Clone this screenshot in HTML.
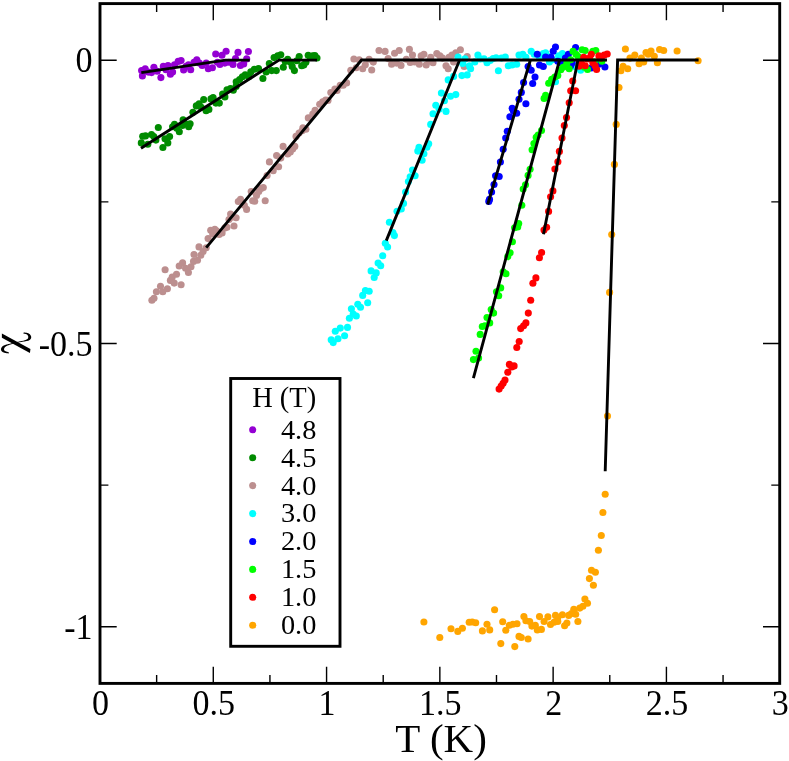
<!DOCTYPE html>
<html><head><meta charset="utf-8"><title>chi vs T</title>
<style>
html,body{margin:0;padding:0;background:#fff;}
body{width:789px;height:761px;overflow:hidden;font-family:"Liberation Serif",serif;}
svg{display:block;}
text{font-family:"Liberation Serif",serif;fill:#000;}
</style></head><body>
<svg style="will-change:transform" width="789" height="761" viewBox="0 0 789 761">
<rect width="789" height="761" fill="#fff"/>
<g fill="#9400d3">
<circle cx="141.6" cy="70.5" r="3.55"/><circle cx="142.4" cy="75.9" r="3.55"/><circle cx="145.2" cy="68.8" r="3.55"/><circle cx="148.2" cy="72.1" r="3.55"/><circle cx="151.5" cy="72.6" r="3.55"/><circle cx="153.9" cy="67.2" r="3.55"/><circle cx="157.2" cy="71.3" r="3.55"/><circle cx="160.9" cy="77.6" r="3.55"/><circle cx="163.3" cy="66.4" r="3.55"/><circle cx="166.0" cy="69.7" r="3.55"/><circle cx="168.0" cy="65.5" r="3.55"/><circle cx="170.4" cy="74.3" r="3.55"/><circle cx="172.6" cy="72.1" r="3.55"/><circle cx="174.5" cy="64.7" r="3.55"/><circle cx="178.2" cy="61.4" r="3.55"/><circle cx="181.1" cy="60.6" r="3.55"/><circle cx="183.6" cy="70.0" r="3.55"/><circle cx="186.1" cy="66.4" r="3.55"/><circle cx="188.5" cy="64.7" r="3.55"/><circle cx="190.7" cy="69.7" r="3.55"/><circle cx="194.0" cy="62.2" r="3.55"/><circle cx="196.8" cy="59.8" r="3.55"/><circle cx="199.3" cy="63.1" r="3.55"/><circle cx="202.2" cy="65.5" r="3.55"/><circle cx="206.2" cy="63.1" r="3.55"/><circle cx="208.3" cy="68.8" r="3.55"/><circle cx="212.4" cy="67.7" r="3.55"/><circle cx="215.7" cy="54.0" r="3.55"/><circle cx="217.4" cy="62.2" r="3.55"/><circle cx="219.9" cy="64.4" r="3.55"/><circle cx="222.0" cy="55.2" r="3.55"/><circle cx="224.8" cy="63.1" r="3.55"/><circle cx="226.1" cy="51.2" r="3.55"/><circle cx="228.9" cy="62.2" r="3.55"/><circle cx="233.0" cy="64.4" r="3.55"/><circle cx="235.5" cy="58.5" r="3.55"/><circle cx="238.0" cy="52.4" r="3.55"/><circle cx="240.4" cy="65.5" r="3.55"/><circle cx="243.7" cy="63.9" r="3.55"/><circle cx="246.7" cy="58.9" r="3.55"/><circle cx="248.4" cy="51.5" r="3.55"/>
</g>
<g fill="#008b00">
<circle cx="141.3" cy="142.9" r="3.55"/><circle cx="142.7" cy="136.3" r="3.55"/><circle cx="145.5" cy="135.9" r="3.55"/><circle cx="147.8" cy="144.3" r="3.55"/><circle cx="151.5" cy="134.5" r="3.55"/><circle cx="153.8" cy="136.6" r="3.55"/><circle cx="155.9" cy="140.1" r="3.55"/><circle cx="158.3" cy="127.5" r="3.55"/><circle cx="162.9" cy="147.5" r="3.55"/><circle cx="165.0" cy="138.7" r="3.55"/><circle cx="167.8" cy="142.9" r="3.55"/><circle cx="169.6" cy="136.6" r="3.55"/><circle cx="172.6" cy="126.8" r="3.55"/><circle cx="174.5" cy="124.3" r="3.55"/><circle cx="176.8" cy="128.2" r="3.55"/><circle cx="179.3" cy="131.7" r="3.55"/><circle cx="183.1" cy="119.9" r="3.55"/><circle cx="182.4" cy="125.4" r="3.55"/><circle cx="185.9" cy="124.0" r="3.55"/><circle cx="188.7" cy="126.8" r="3.55"/><circle cx="190.1" cy="123.8" r="3.55"/><circle cx="192.9" cy="112.2" r="3.55"/><circle cx="196.3" cy="105.9" r="3.55"/><circle cx="199.1" cy="103.8" r="3.55"/><circle cx="201.2" cy="107.3" r="3.55"/><circle cx="203.7" cy="99.6" r="3.55"/><circle cx="206.1" cy="110.8" r="3.55"/><circle cx="208.9" cy="109.4" r="3.55"/><circle cx="211.0" cy="98.9" r="3.55"/><circle cx="213.1" cy="97.5" r="3.55"/><circle cx="215.9" cy="103.1" r="3.55"/><circle cx="219.3" cy="103.1" r="3.55"/><circle cx="222.6" cy="94.1" r="3.55"/><circle cx="224.9" cy="96.9" r="3.55"/><circle cx="227.0" cy="89.9" r="3.55"/><circle cx="230.5" cy="88.5" r="3.55"/><circle cx="233.3" cy="90.3" r="3.55"/><circle cx="236.1" cy="86.4" r="3.55"/><circle cx="236.2" cy="81.7" r="3.55"/><circle cx="239.6" cy="79.6" r="3.55"/><circle cx="242.4" cy="76.8" r="3.55"/><circle cx="245.2" cy="74.7" r="3.55"/><circle cx="248.7" cy="76.8" r="3.55"/><circle cx="250.8" cy="71.9" r="3.55"/><circle cx="254.3" cy="69.2" r="3.55"/><circle cx="258.5" cy="68.5" r="3.55"/><circle cx="262.9" cy="78.5" r="3.55"/><circle cx="266.1" cy="71.9" r="3.55"/><circle cx="269.3" cy="63.6" r="3.55"/><circle cx="271.7" cy="70.6" r="3.55"/><circle cx="274.1" cy="57.6" r="3.55"/><circle cx="276.3" cy="70.6" r="3.55"/><circle cx="277.7" cy="55.9" r="3.55"/><circle cx="280.8" cy="54.8" r="3.55"/><circle cx="283.3" cy="67.3" r="3.55"/><circle cx="285.2" cy="61.5" r="3.55"/><circle cx="287.7" cy="59.4" r="3.55"/><circle cx="290.5" cy="62.2" r="3.55"/><circle cx="292.2" cy="66.4" r="3.55"/><circle cx="294.4" cy="70.6" r="3.55"/><circle cx="296.8" cy="60.8" r="3.55"/><circle cx="299.2" cy="56.6" r="3.55"/><circle cx="301.7" cy="65.7" r="3.55"/><circle cx="303.8" cy="65.0" r="3.55"/><circle cx="305.9" cy="62.2" r="3.55"/><circle cx="308.2" cy="55.2" r="3.55"/><circle cx="310.3" cy="57.3" r="3.55"/><circle cx="312.6" cy="55.9" r="3.55"/><circle cx="314.9" cy="55.6" r="3.55"/><circle cx="317.0" cy="58.0" r="3.55"/>
</g>
<g fill="#bc8f8f">
<circle cx="151.9" cy="300.2" r="3.55"/><circle cx="154.0" cy="298.3" r="3.55"/><circle cx="156.4" cy="291.8" r="3.55"/><circle cx="160.5" cy="286.2" r="3.55"/><circle cx="162.8" cy="291.8" r="3.55"/><circle cx="165.1" cy="269.8" r="3.55"/><circle cx="167.4" cy="288.8" r="3.55"/><circle cx="170.4" cy="280.4" r="3.55"/><circle cx="172.2" cy="277.1" r="3.55"/><circle cx="174.2" cy="283.1" r="3.55"/><circle cx="176.5" cy="274.3" r="3.55"/><circle cx="179.2" cy="266.0" r="3.55"/><circle cx="181.1" cy="284.7" r="3.55"/><circle cx="182.6" cy="262.9" r="3.55"/><circle cx="185.6" cy="268.2" r="3.55"/><circle cx="188.4" cy="272.5" r="3.55"/><circle cx="191.0" cy="266.7" r="3.55"/><circle cx="193.5" cy="261.4" r="3.55"/><circle cx="194.0" cy="254.5" r="3.55"/><circle cx="197.5" cy="260.3" r="3.55"/><circle cx="199.0" cy="246.9" r="3.55"/><circle cx="200.8" cy="255.3" r="3.55"/><circle cx="203.1" cy="251.5" r="3.55"/><circle cx="206.2" cy="247.7" r="3.55"/><circle cx="208.1" cy="238.6" r="3.55"/><circle cx="210.7" cy="230.2" r="3.55"/><circle cx="212.7" cy="234.0" r="3.55"/><circle cx="214.8" cy="229.4" r="3.55"/><circle cx="216.8" cy="231.0" r="3.55"/><circle cx="219.1" cy="234.5" r="3.55"/><circle cx="222.1" cy="232.9" r="3.55"/><circle cx="224.9" cy="227.9" r="3.55"/><circle cx="227.0" cy="227.2" r="3.55"/><circle cx="229.0" cy="219.6" r="3.55"/><circle cx="231.3" cy="217.3" r="3.55"/><circle cx="234.0" cy="226.0" r="3.55"/><circle cx="236.1" cy="217.7" r="3.55"/><circle cx="230.6" cy="214.0" r="3.55"/><circle cx="238.3" cy="201.5" r="3.55"/><circle cx="240.5" cy="199.2" r="3.55"/><circle cx="244.3" cy="205.3" r="3.55"/><circle cx="246.6" cy="209.4" r="3.55"/><circle cx="251.2" cy="191.6" r="3.55"/><circle cx="252.7" cy="200.7" r="3.55"/><circle cx="254.7" cy="201.2" r="3.55"/><circle cx="256.5" cy="195.4" r="3.55"/><circle cx="258.8" cy="191.6" r="3.55"/><circle cx="261.1" cy="188.6" r="3.55"/><circle cx="263.3" cy="187.5" r="3.55"/><circle cx="265.2" cy="200.7" r="3.55"/><circle cx="267.1" cy="175.6" r="3.55"/><circle cx="269.4" cy="161.9" r="3.55"/><circle cx="273.2" cy="170.8" r="3.55"/><circle cx="276.6" cy="155.6" r="3.55"/><circle cx="278.6" cy="166.8" r="3.55"/><circle cx="280.8" cy="158.1" r="3.55"/><circle cx="283.1" cy="146.4" r="3.55"/><circle cx="287.7" cy="154.0" r="3.55"/><circle cx="290.3" cy="152.1" r="3.55"/><circle cx="292.7" cy="149.0" r="3.55"/><circle cx="294.8" cy="146.4" r="3.55"/><circle cx="296.0" cy="136.4" r="3.55"/><circle cx="299.1" cy="133.0" r="3.55"/><circle cx="302.1" cy="130.8" r="3.55"/><circle cx="305.9" cy="129.2" r="3.55"/><circle cx="302.9" cy="127.8" r="3.55"/><circle cx="308.3" cy="117.9" r="3.55"/><circle cx="312.8" cy="114.1" r="3.55"/><circle cx="315.1" cy="110.3" r="3.55"/><circle cx="319.7" cy="104.2" r="3.55"/><circle cx="322.7" cy="101.9" r="3.55"/><circle cx="325.7" cy="100.1" r="3.55"/><circle cx="328.0" cy="100.4" r="3.55"/><circle cx="330.8" cy="92.5" r="3.55"/><circle cx="334.9" cy="89.0" r="3.55"/><circle cx="337.1" cy="90.5" r="3.55"/><circle cx="340.2" cy="85.2" r="3.55"/><circle cx="343.2" cy="85.2" r="3.55"/><circle cx="346.6" cy="82.9" r="3.55"/><circle cx="350.8" cy="70.3" r="3.55"/><circle cx="353.9" cy="59.0" r="3.55"/><circle cx="356.2" cy="67.7" r="3.55"/><circle cx="359.2" cy="59.8" r="3.55"/><circle cx="362.7" cy="68.8" r="3.55"/><circle cx="365.3" cy="64.7" r="3.55"/><circle cx="369.1" cy="59.3" r="3.55"/><circle cx="371.7" cy="70.0" r="3.55"/><circle cx="373.3" cy="62.1" r="3.55"/><circle cx="379.0" cy="50.5" r="3.55"/><circle cx="385.1" cy="51.4" r="3.55"/><circle cx="388.1" cy="58.6" r="3.55"/><circle cx="391.6" cy="64.2" r="3.55"/><circle cx="394.6" cy="53.3" r="3.55"/><circle cx="396.5" cy="63.1" r="3.55"/><circle cx="399.2" cy="50.5" r="3.55"/><circle cx="401.0" cy="65.4" r="3.55"/><circle cx="406.3" cy="59.3" r="3.55"/><circle cx="409.4" cy="49.4" r="3.55"/><circle cx="410.2" cy="62.4" r="3.55"/><circle cx="412.5" cy="55.1" r="3.55"/><circle cx="414.8" cy="61.9" r="3.55"/><circle cx="419.3" cy="64.2" r="3.55"/><circle cx="421.2" cy="55.9" r="3.55"/><circle cx="423.9" cy="54.3" r="3.55"/><circle cx="426.2" cy="65.0" r="3.55"/><circle cx="429.2" cy="61.2" r="3.55"/><circle cx="430.7" cy="57.4" r="3.55"/><circle cx="433.0" cy="62.7" r="3.55"/><circle cx="436.8" cy="53.6" r="3.55"/><circle cx="439.9" cy="55.9" r="3.55"/><circle cx="442.5" cy="58.1" r="3.55"/><circle cx="446.0" cy="65.7" r="3.55"/><circle cx="448.2" cy="68.8" r="3.55"/><circle cx="449.0" cy="57.4" r="3.55"/><circle cx="452.0" cy="55.1" r="3.55"/><circle cx="453.6" cy="61.9" r="3.55"/><circle cx="455.8" cy="52.8" r="3.55"/><circle cx="460.4" cy="49.8" r="3.55"/><circle cx="464.2" cy="66.5" r="3.55"/><circle cx="467.2" cy="56.6" r="3.55"/>
</g>
<g fill="#00ffff">
<circle cx="433.0" cy="113.7" r="3.55"/><circle cx="435.8" cy="105.3" r="3.55"/><circle cx="441.4" cy="93.1" r="3.55"/><circle cx="444.4" cy="100.7" r="3.55"/><circle cx="446.0" cy="111.4" r="3.55"/><circle cx="448.2" cy="79.9" r="3.55"/><circle cx="450.5" cy="96.2" r="3.55"/><circle cx="453.6" cy="76.4" r="3.55"/><circle cx="455.8" cy="94.6" r="3.55"/><circle cx="458.1" cy="57.1" r="3.55"/><circle cx="461.9" cy="75.6" r="3.55"/><circle cx="462.7" cy="63.5" r="3.55"/><circle cx="465.0" cy="58.9" r="3.55"/><circle cx="467.2" cy="74.9" r="3.55"/><circle cx="469.5" cy="65.7" r="3.55"/><circle cx="470.6" cy="68.8" r="3.55"/><circle cx="474.8" cy="61.9" r="3.55"/><circle cx="477.9" cy="55.1" r="3.55"/><circle cx="480.2" cy="58.9" r="3.55"/><circle cx="484.0" cy="58.9" r="3.55"/><circle cx="487.0" cy="62.7" r="3.55"/><circle cx="490.1" cy="60.4" r="3.55"/><circle cx="493.1" cy="58.6" r="3.55"/><circle cx="496.1" cy="57.7" r="3.55"/><circle cx="498.4" cy="70.8" r="3.55"/><circle cx="501.5" cy="58.1" r="3.55"/><circle cx="505.3" cy="57.1" r="3.55"/><circle cx="508.3" cy="65.7" r="3.55"/><circle cx="512.1" cy="65.0" r="3.55"/><circle cx="516.7" cy="64.2" r="3.55"/><circle cx="519.0" cy="55.1" r="3.55"/><circle cx="522.8" cy="54.3" r="3.55"/><circle cx="525.9" cy="57.4" r="3.55"/><circle cx="531.2" cy="51.3" r="3.55"/><circle cx="534.2" cy="54.3" r="3.55"/><circle cx="539.5" cy="57.4" r="3.55"/><circle cx="543.3" cy="53.6" r="3.55"/><circle cx="545.6" cy="52.8" r="3.55"/><circle cx="549.4" cy="61.9" r="3.55"/><circle cx="552.5" cy="59.7" r="3.55"/><circle cx="555.5" cy="81.7" r="3.55"/><circle cx="558.6" cy="55.9" r="3.55"/><circle cx="562.4" cy="53.6" r="3.55"/><circle cx="566.9" cy="61.9" r="3.55"/><circle cx="574.5" cy="66.5" r="3.55"/><circle cx="580.6" cy="70.3" r="3.55"/><circle cx="548.7" cy="56.6" r="3.55"/><circle cx="405.6" cy="192.1" r="3.55"/><circle cx="408.4" cy="181.5" r="3.55"/><circle cx="410.2" cy="176.9" r="3.55"/><circle cx="412.5" cy="170.1" r="3.55"/><circle cx="415.1" cy="175.7" r="3.55"/><circle cx="417.8" cy="151.1" r="3.55"/><circle cx="419.0" cy="147.3" r="3.55"/><circle cx="422.1" cy="160.2" r="3.55"/><circle cx="423.9" cy="153.8" r="3.55"/><circle cx="426.9" cy="147.3" r="3.55"/><circle cx="428.7" cy="143.8" r="3.55"/><circle cx="430.7" cy="124.4" r="3.55"/><circle cx="439.1" cy="109.2" r="3.55"/><circle cx="403.5" cy="203.4" r="3.55"/><circle cx="401.3" cy="209.0" r="3.55"/><circle cx="397.0" cy="211.3" r="3.55"/><circle cx="389.4" cy="222.2" r="3.55"/><circle cx="392.9" cy="232.6" r="3.55"/><circle cx="394.4" cy="235.6" r="3.55"/><circle cx="385.3" cy="243.2" r="3.55"/><circle cx="387.6" cy="247.0" r="3.55"/><circle cx="382.7" cy="255.7" r="3.55"/><circle cx="378.1" cy="263.0" r="3.55"/><circle cx="380.7" cy="265.7" r="3.55"/><circle cx="371.1" cy="270.9" r="3.55"/><circle cx="376.2" cy="272.9" r="3.55"/><circle cx="374.2" cy="277.5" r="3.55"/><circle cx="365.4" cy="290.6" r="3.55"/><circle cx="369.2" cy="291.2" r="3.55"/><circle cx="362.7" cy="295.4" r="3.55"/><circle cx="367.7" cy="302.7" r="3.55"/><circle cx="357.8" cy="304.2" r="3.55"/><circle cx="360.5" cy="307.3" r="3.55"/><circle cx="351.4" cy="308.8" r="3.55"/><circle cx="353.2" cy="314.0" r="3.55"/><circle cx="356.3" cy="316.0" r="3.55"/><circle cx="349.4" cy="318.2" r="3.55"/><circle cx="347.5" cy="327.4" r="3.55"/><circle cx="340.3" cy="328.1" r="3.55"/><circle cx="335.3" cy="331.2" r="3.55"/><circle cx="344.6" cy="335.7" r="3.55"/><circle cx="338.0" cy="338.8" r="3.55"/><circle cx="331.2" cy="339.8" r="3.55"/><circle cx="333.2" cy="342.6" r="3.55"/>
</g>
<g fill="#0000ff">
<circle cx="509.9" cy="116.7" r="3.55"/><circle cx="512.2" cy="108.3" r="3.55"/><circle cx="516.7" cy="113.3" r="3.55"/><circle cx="519.0" cy="99.2" r="3.55"/><circle cx="521.3" cy="92.4" r="3.55"/><circle cx="523.6" cy="82.5" r="3.55"/><circle cx="525.9" cy="103.8" r="3.55"/><circle cx="528.1" cy="66.5" r="3.55"/><circle cx="531.2" cy="70.3" r="3.55"/><circle cx="532.7" cy="83.5" r="3.55"/><circle cx="535.0" cy="77.1" r="3.55"/><circle cx="537.3" cy="54.3" r="3.55"/><circle cx="539.5" cy="65.0" r="3.55"/><circle cx="543.3" cy="66.5" r="3.55"/><circle cx="545.6" cy="57.1" r="3.55"/><circle cx="551.0" cy="57.4" r="3.55"/><circle cx="553.2" cy="51.3" r="3.55"/><circle cx="555.5" cy="47.0" r="3.55"/><circle cx="557.8" cy="61.2" r="3.55"/><circle cx="560.8" cy="62.7" r="3.55"/><circle cx="565.4" cy="58.1" r="3.55"/><circle cx="568.4" cy="54.3" r="3.55"/><circle cx="572.2" cy="62.7" r="3.55"/><circle cx="575.6" cy="47.5" r="3.55"/><circle cx="591.3" cy="68.0" r="3.55"/><circle cx="598.9" cy="64.2" r="3.55"/><circle cx="604.9" cy="67.0" r="3.55"/><circle cx="570.7" cy="65.7" r="3.55"/><circle cx="513.3" cy="110.8" r="3.55"/><circle cx="507.3" cy="131.3" r="3.55"/><circle cx="505.7" cy="138.1" r="3.55"/><circle cx="503.2" cy="149.2" r="3.55"/><circle cx="500.4" cy="162.0" r="3.55"/><circle cx="495.6" cy="175.7" r="3.55"/><circle cx="499.2" cy="176.5" r="3.55"/><circle cx="494.0" cy="184.5" r="3.55"/><circle cx="491.6" cy="192.1" r="3.55"/><circle cx="489.5" cy="199.4" r="3.55"/><circle cx="488.8" cy="201.4" r="3.55"/>
</g>
<g fill="#00ff00">
<circle cx="544.1" cy="98.4" r="3.55"/><circle cx="545.6" cy="95.4" r="3.55"/><circle cx="548.7" cy="83.2" r="3.55"/><circle cx="551.7" cy="79.4" r="3.55"/><circle cx="554.8" cy="77.1" r="3.55"/><circle cx="557.8" cy="75.6" r="3.55"/><circle cx="560.8" cy="69.8" r="3.55"/><circle cx="563.1" cy="67.3" r="3.55"/><circle cx="566.2" cy="65.7" r="3.55"/><circle cx="569.2" cy="68.8" r="3.55"/><circle cx="566.9" cy="62.7" r="3.55"/><circle cx="570.7" cy="59.7" r="3.55"/><circle cx="573.0" cy="51.3" r="3.55"/><circle cx="576.0" cy="54.3" r="3.55"/><circle cx="578.3" cy="56.6" r="3.55"/><circle cx="582.1" cy="49.8" r="3.55"/><circle cx="585.2" cy="50.5" r="3.55"/><circle cx="587.5" cy="69.5" r="3.55"/><circle cx="592.8" cy="51.3" r="3.55"/><circle cx="595.8" cy="50.5" r="3.55"/><circle cx="594.3" cy="61.9" r="3.55"/><circle cx="601.9" cy="61.2" r="3.55"/><circle cx="584.4" cy="67.3" r="3.55"/><circle cx="541.5" cy="130.5" r="3.55"/><circle cx="538.1" cy="135.1" r="3.55"/><circle cx="536.2" cy="137.4" r="3.55"/><circle cx="533.9" cy="143.5" r="3.55"/><circle cx="532.1" cy="149.8" r="3.55"/><circle cx="530.1" cy="169.3" r="3.55"/><circle cx="528.1" cy="175.4" r="3.55"/><circle cx="525.5" cy="184.8" r="3.55"/><circle cx="523.2" cy="189.1" r="3.55"/><circle cx="521.8" cy="205.3" r="3.55"/><circle cx="518.7" cy="223.6" r="3.55"/><circle cx="514.6" cy="227.7" r="3.55"/><circle cx="517.7" cy="226.9" r="3.55"/><circle cx="512.4" cy="241.8" r="3.55"/><circle cx="510.1" cy="252.8" r="3.55"/><circle cx="507.8" cy="256.6" r="3.55"/><circle cx="503.2" cy="271.8" r="3.55"/><circle cx="506.0" cy="273.8" r="3.55"/><circle cx="500.7" cy="287.9" r="3.55"/><circle cx="496.5" cy="291.8" r="3.55"/><circle cx="498.7" cy="295.8" r="3.55"/><circle cx="491.2" cy="309.6" r="3.55"/><circle cx="493.6" cy="313.1" r="3.55"/><circle cx="487.0" cy="317.5" r="3.55"/><circle cx="489.7" cy="322.9" r="3.55"/><circle cx="482.3" cy="326.5" r="3.55"/><circle cx="484.9" cy="325.7" r="3.55"/><circle cx="480.2" cy="334.4" r="3.55"/><circle cx="476.0" cy="351.3" r="3.55"/><circle cx="473.4" cy="359.6" r="3.55"/><circle cx="478.6" cy="358.1" r="3.55"/>
</g>
<g fill="#ff0000">
<circle cx="566.5" cy="117.5" r="3.55"/><circle cx="569.2" cy="102.7" r="3.55"/><circle cx="570.7" cy="90.8" r="3.55"/><circle cx="572.7" cy="81.0" r="3.55"/><circle cx="575.6" cy="90.8" r="3.55"/><circle cx="579.1" cy="66.2" r="3.55"/><circle cx="581.4" cy="62.7" r="3.55"/><circle cx="583.7" cy="57.4" r="3.55"/><circle cx="585.2" cy="65.7" r="3.55"/><circle cx="587.5" cy="58.9" r="3.55"/><circle cx="591.3" cy="54.3" r="3.55"/><circle cx="592.8" cy="62.7" r="3.55"/><circle cx="595.1" cy="65.7" r="3.55"/><circle cx="596.6" cy="69.5" r="3.55"/><circle cx="598.9" cy="55.9" r="3.55"/><circle cx="601.1" cy="58.1" r="3.55"/><circle cx="604.2" cy="55.1" r="3.55"/><circle cx="607.2" cy="54.0" r="3.55"/><circle cx="589.7" cy="58.1" r="3.55"/><circle cx="564.3" cy="125.5" r="3.55"/><circle cx="562.0" cy="138.1" r="3.55"/><circle cx="559.4" cy="151.4" r="3.55"/><circle cx="557.9" cy="161.7" r="3.55"/><circle cx="554.9" cy="169.0" r="3.55"/><circle cx="552.9" cy="190.9" r="3.55"/><circle cx="550.6" cy="196.7" r="3.55"/><circle cx="548.6" cy="211.4" r="3.55"/><circle cx="546.6" cy="227.2" r="3.55"/><circle cx="544.0" cy="230.0" r="3.55"/><circle cx="541.6" cy="252.5" r="3.55"/><circle cx="539.4" cy="257.7" r="3.55"/><circle cx="535.9" cy="277.9" r="3.55"/><circle cx="532.9" cy="283.2" r="3.55"/><circle cx="530.7" cy="300.2" r="3.55"/><circle cx="528.3" cy="313.1" r="3.55"/><circle cx="525.9" cy="322.9" r="3.55"/><circle cx="523.6" cy="325.7" r="3.55"/><circle cx="520.7" cy="328.6" r="3.55"/><circle cx="519.2" cy="341.5" r="3.55"/><circle cx="516.8" cy="347.5" r="3.55"/><circle cx="509.4" cy="364.4" r="3.55"/><circle cx="514.1" cy="365.9" r="3.55"/><circle cx="511.7" cy="367.0" r="3.55"/><circle cx="507.8" cy="372.2" r="3.55"/><circle cx="505.0" cy="380.1" r="3.55"/><circle cx="503.1" cy="383.3" r="3.55"/><circle cx="501.2" cy="386.0" r="3.55"/><circle cx="499.1" cy="389.1" r="3.55"/>
</g>
<g fill="#ffa500">
<circle cx="625.4" cy="49.0" r="3.55"/><circle cx="619.0" cy="87.5" r="3.55"/><circle cx="620.9" cy="70.8" r="3.55"/><circle cx="623.1" cy="66.2" r="3.55"/><circle cx="627.7" cy="68.8" r="3.55"/><circle cx="630.0" cy="58.1" r="3.55"/><circle cx="634.8" cy="55.1" r="3.55"/><circle cx="639.1" cy="63.8" r="3.55"/><circle cx="641.4" cy="58.1" r="3.55"/><circle cx="643.7" cy="61.9" r="3.55"/><circle cx="646.0" cy="52.5" r="3.55"/><circle cx="648.2" cy="54.3" r="3.55"/><circle cx="651.0" cy="51.0" r="3.55"/><circle cx="654.3" cy="56.2" r="3.55"/><circle cx="657.4" cy="62.7" r="3.55"/><circle cx="659.6" cy="49.5" r="3.55"/><circle cx="663.7" cy="50.5" r="3.55"/><circle cx="677.1" cy="51.0" r="3.55"/><circle cx="698.1" cy="60.7" r="3.55"/><circle cx="616.2" cy="124.4" r="3.55"/><circle cx="614.4" cy="164.4" r="3.55"/><circle cx="611.7" cy="234.6" r="3.55"/><circle cx="609.6" cy="292.4" r="3.55"/><circle cx="607.5" cy="416.1" r="3.55"/><circle cx="605.2" cy="494.2" r="3.55"/><circle cx="602.9" cy="512.5" r="3.55"/><circle cx="601.3" cy="535.5" r="3.55"/><circle cx="598.4" cy="550.3" r="3.55"/><circle cx="591.5" cy="570.2" r="3.55"/><circle cx="595.4" cy="572.2" r="3.55"/><circle cx="589.4" cy="578.6" r="3.55"/><circle cx="593.4" cy="585.3" r="3.55"/><circle cx="584.9" cy="599.1" r="3.55"/><circle cx="587.5" cy="603.3" r="3.55"/><circle cx="582.9" cy="606.3" r="3.55"/><circle cx="579.8" cy="608.1" r="3.55"/><circle cx="573.8" cy="609.3" r="3.55"/><circle cx="571.5" cy="613.6" r="3.55"/><circle cx="575.7" cy="614.2" r="3.55"/><circle cx="568.7" cy="615.4" r="3.55"/><circle cx="562.4" cy="614.7" r="3.55"/><circle cx="555.5" cy="615.4" r="3.55"/><circle cx="557.8" cy="617.7" r="3.55"/><circle cx="547.9" cy="616.9" r="3.55"/><circle cx="539.5" cy="616.6" r="3.55"/><circle cx="544.1" cy="621.5" r="3.55"/><circle cx="550.5" cy="624.5" r="3.55"/><circle cx="554.0" cy="622.3" r="3.55"/><circle cx="557.8" cy="621.5" r="3.55"/><circle cx="566.9" cy="623.0" r="3.55"/><circle cx="564.6" cy="625.8" r="3.55"/><circle cx="577.9" cy="621.5" r="3.55"/><circle cx="523.9" cy="616.6" r="3.55"/><circle cx="525.9" cy="620.7" r="3.55"/><circle cx="529.7" cy="621.5" r="3.55"/><circle cx="531.9" cy="626.1" r="3.55"/><circle cx="535.3" cy="625.3" r="3.55"/><circle cx="537.3" cy="629.9" r="3.55"/><circle cx="541.4" cy="629.4" r="3.55"/><circle cx="517.0" cy="623.8" r="3.55"/><circle cx="512.9" cy="624.2" r="3.55"/><circle cx="509.4" cy="625.3" r="3.55"/><circle cx="505.8" cy="630.2" r="3.55"/><circle cx="502.7" cy="621.8" r="3.55"/><circle cx="519.0" cy="636.4" r="3.55"/><circle cx="521.3" cy="637.5" r="3.55"/><circle cx="528.1" cy="639.0" r="3.55"/><circle cx="514.8" cy="646.6" r="3.55"/><circle cx="500.8" cy="643.6" r="3.55"/><circle cx="423.9" cy="622.0" r="3.55"/><circle cx="439.8" cy="637.5" r="3.55"/><circle cx="451.0" cy="628.8" r="3.55"/><circle cx="457.8" cy="631.4" r="3.55"/><circle cx="462.4" cy="628.3" r="3.55"/><circle cx="469.2" cy="622.3" r="3.55"/><circle cx="472.2" cy="622.0" r="3.55"/><circle cx="475.7" cy="622.7" r="3.55"/><circle cx="482.4" cy="630.9" r="3.55"/><circle cx="487.0" cy="624.2" r="3.55"/><circle cx="489.7" cy="629.9" r="3.55"/><circle cx="494.6" cy="609.8" r="3.55"/>
</g>
<path d="M141.3 72.6L225.5 60.1H249.8M141 148.2L279 60.1H317M206.2 247.7L361.5 60H607M386.3 240.6L459.6 60M487.7 204.5L530.4 60M473.4 378.1L559.6 60M543.5 234.2L577.9 60M605.2 471.3L617.6 60H698.6" fill="none" stroke="#000" stroke-width="2.9" stroke-linejoin="miter" stroke-linecap="butt"/>
<path d="M156.64 683.40v-8.40M156.64 3.60v8.40M213.28 683.40v-16.70M213.28 3.60v16.70M269.93 683.40v-8.40M269.93 3.60v8.40M326.57 683.40v-16.70M326.57 3.60v16.70M383.21 683.40v-8.40M383.21 3.60v8.40M439.85 683.40v-16.70M439.85 3.60v16.70M496.49 683.40v-8.40M496.49 3.60v8.40M553.13 683.40v-16.70M553.13 3.60v16.70M609.78 683.40v-8.40M609.78 3.60v8.40M666.42 683.40v-16.70M666.42 3.60v16.70M723.06 683.40v-8.40M723.06 3.60v8.40M100.00 60.25h16.70M779.70 60.25h-16.70M100.00 201.87h8.40M779.70 201.87h-8.40M100.00 343.50h16.70M779.70 343.50h-16.70M100.00 485.12h8.40M779.70 485.12h-8.40M100.00 626.75h16.70M779.70 626.75h-16.70" fill="none" stroke="#000" stroke-width="1.4"/>
<rect x="100.0" y="3.6" width="679.7" height="679.8" fill="none" stroke="#000" stroke-width="2.9"/>
<g><text transform="translate(100.50 714.70) scale(1 1.03)" font-size="34px" text-anchor="middle">0</text><text transform="translate(213.78 714.70) scale(1 1.03)" font-size="34px" text-anchor="middle">0.5</text><text transform="translate(327.07 714.70) scale(1 1.03)" font-size="34px" text-anchor="middle">1</text><text transform="translate(440.35 714.70) scale(1 1.03)" font-size="34px" text-anchor="middle">1.5</text><text transform="translate(553.63 714.70) scale(1 1.03)" font-size="34px" text-anchor="middle">2</text><text transform="translate(666.92 714.70) scale(1 1.03)" font-size="34px" text-anchor="middle">2.5</text><text transform="translate(780.20 714.70) scale(1 1.03)" font-size="34px" text-anchor="middle">3</text><text transform="translate(92.60 72.35) scale(1 1.03)" font-size="34px" text-anchor="end">0</text><text transform="translate(92.60 355.60) scale(1 1.03)" font-size="34px" text-anchor="end">-0.5</text><text transform="translate(92.60 638.85) scale(1 1.03)" font-size="34px" text-anchor="end">-1</text></g>
<text x="441.1" y="751.6" font-size="41px" text-anchor="middle">T (K)</text>
<g id="chi" aria-label="chi"><title>χ</title><path d="M1.90 333.62L1.90 337.87L29.91 352.95L30.42 348.96Z" fill="#000"/><path d="M23.49 333.62L23.67 333.65L23.89 333.69L24.14 333.72L24.42 333.76L24.72 333.81L25.04 333.86L25.35 333.92L25.66 333.98L25.96 334.06L26.23 334.14L26.46 334.23L26.65 334.33L26.82 334.44L26.99 334.57L27.16 334.72L27.31 334.87L27.45 335.03L27.58 335.19L27.70 335.35L27.81 335.51L27.90 335.67L27.98 335.83L28.04 335.97L28.09 336.10L28.13 336.22L28.16 336.35L28.19 336.48L28.21 336.61L28.22 336.75L28.23 336.87L28.23 337.00L28.23 337.11L28.22 337.21L28.22 337.29L28.21 337.35L28.21 337.41L28.20 337.49L28.19 337.58L28.19 337.67L28.18 337.76L28.17 337.86L28.15 337.97L28.12 338.09L28.07 338.21L27.99 338.35L27.90 338.48L27.78 338.63L27.63 338.77L27.45 338.91L27.26 339.06L27.05 339.20L26.83 339.34L26.58 339.49L26.30 339.63L26.00 339.77L25.66 339.91L25.29 340.05L24.89 340.19L24.45 340.34L23.97 340.48L23.43 340.63L22.83 340.77L22.17 340.92L21.47 341.06L20.74 341.21L19.99 341.35L19.24 341.49L18.49 341.63L17.75 341.78L17.04 341.91L16.38 342.05L15.76 342.19L15.19 342.32L14.64 342.46L14.12 342.59L13.61 342.73L13.13 342.86L12.66 342.99L12.20 343.12L11.75 343.25L11.31 343.37L10.87 343.49L10.44 343.61L10.01 343.72L9.58 343.83L9.15 343.93L8.72 344.03L8.30 344.12L7.88 344.22L7.47 344.31L7.07 344.40L6.67 344.50L6.29 344.60L5.92 344.70L5.56 344.81L5.22 344.92L4.90 345.04L4.59 345.16L4.29 345.28L4.00 345.40L3.73 345.53L3.46 345.67L3.20 345.82L2.95 345.98L2.72 346.15L2.50 346.33L2.29 346.52L2.09 346.73L1.90 346.95L1.73 347.19L1.56 347.44L1.42 347.70L1.29 347.98L1.19 348.26L1.10 348.56L1.04 348.87L1.01 349.19L1.01 349.51L1.05 349.85L1.13 350.17L1.23 350.46L1.37 350.72L1.53 350.97L1.71 351.21L1.92 351.44L2.15 351.65L2.40 351.84L2.66 352.02L2.94 352.18L3.23 352.33L3.53 352.46L3.86 352.59L4.22 352.72L4.63 352.83L5.06 352.92L5.52 353.01L5.98 353.10L6.45 353.18L6.90 353.25L7.34 353.31L7.73 353.37L8.09 353.42L8.38 353.47L8.60 353.50L8.89 352.40L8.67 352.32L8.38 352.22L8.03 352.11L7.65 351.98L7.24 351.85L6.82 351.70L6.40 351.55L5.98 351.39L5.60 351.23L5.25 351.07L4.97 350.92L4.76 350.78L4.60 350.64L4.45 350.49L4.34 350.35L4.25 350.21L4.18 350.07L4.13 349.95L4.10 349.83L4.09 349.73L4.08 349.63L4.07 349.54L4.07 349.46L4.07 349.40L4.07 349.36L4.07 349.33L4.07 349.28L4.06 349.20L4.06 349.12L4.07 349.02L4.08 348.91L4.10 348.79L4.12 348.66L4.16 348.53L4.20 348.41L4.25 348.28L4.31 348.15L4.38 348.01L4.46 347.86L4.56 347.71L4.66 347.56L4.79 347.40L4.93 347.24L5.09 347.07L5.27 346.91L5.47 346.74L5.69 346.57L5.93 346.41L6.19 346.25L6.48 346.09L6.79 345.93L7.12 345.78L7.47 345.62L7.83 345.47L8.22 345.31L8.61 345.16L9.01 345.01L9.43 344.87L9.84 344.72L10.27 344.57L10.69 344.42L11.11 344.28L11.54 344.14L11.97 344.00L12.42 343.86L12.87 343.72L13.33 343.59L13.81 343.45L14.31 343.32L14.82 343.19L15.36 343.06L15.93 342.93L16.53 342.80L17.19 342.67L17.89 342.54L18.63 342.41L19.38 342.28L20.14 342.15L20.89 342.03L21.63 341.91L22.34 341.79L23.01 341.68L23.63 341.57L24.20 341.47L24.70 341.38L25.17 341.30L25.60 341.23L26.01 341.16L26.39 341.10L26.75 341.03L27.10 340.97L27.43 340.90L27.74 340.82L28.05 340.74L28.35 340.64L28.65 340.52L28.94 340.39L29.22 340.25L29.49 340.10L29.75 339.93L29.99 339.74L30.21 339.54L30.42 339.33L30.61 339.10L30.77 338.86L30.91 338.61L31.02 338.35L31.11 338.08L31.17 337.77L31.20 337.46L31.20 337.15L31.17 336.84L31.12 336.54L31.04 336.25L30.95 335.97L30.83 335.70L30.70 335.43L30.55 335.18L30.39 334.93L30.21 334.70L30.02 334.49L29.81 334.29L29.59 334.10L29.35 333.93L29.11 333.77L28.86 333.61L28.60 333.47L28.33 333.34L28.06 333.23L27.78 333.12L27.51 333.01L27.22 332.92L26.91 332.84L26.57 332.77L26.23 332.71L25.89 332.67L25.54 332.63L25.19 332.60L24.86 332.57L24.55 332.55L24.27 332.53L24.02 332.52L23.81 332.50L23.65 332.49Z" fill="#000"/></g>
<rect x="230.7" y="378.5" width="109.3" height="267.8" fill="#fff" stroke="#000" stroke-width="2.9"/>
<g><text transform="translate(284.2 407.1) scale(1 1.04)" font-size="28.5px" text-anchor="middle">H (T)</text><circle cx="252.7" cy="429.8" r="3.55" fill="#9400d3"/><text transform="translate(280.90 438.70) scale(1.02 1.01)" font-size="27.8px" text-anchor="start">4.8</text><circle cx="252.7" cy="457.7" r="3.55" fill="#008b00"/><text transform="translate(280.90 466.62) scale(1.02 1.01)" font-size="27.8px" text-anchor="start">4.5</text><circle cx="252.7" cy="485.6" r="3.55" fill="#bc8f8f"/><text transform="translate(280.90 494.54) scale(1.02 1.01)" font-size="27.8px" text-anchor="start">4.0</text><circle cx="252.7" cy="513.6" r="3.55" fill="#00ffff"/><text transform="translate(280.90 522.46) scale(1.02 1.01)" font-size="27.8px" text-anchor="start">3.0</text><circle cx="252.7" cy="541.5" r="3.55" fill="#0000ff"/><text transform="translate(280.90 550.38) scale(1.02 1.01)" font-size="27.8px" text-anchor="start">2.0</text><circle cx="252.7" cy="569.4" r="3.55" fill="#00ff00"/><text transform="translate(280.90 578.30) scale(1.02 1.01)" font-size="27.8px" text-anchor="start">1.5</text><circle cx="252.7" cy="597.3" r="3.55" fill="#ff0000"/><text transform="translate(280.90 606.22) scale(1.02 1.01)" font-size="27.8px" text-anchor="start">1.0</text><circle cx="252.7" cy="625.2" r="3.55" fill="#ffa500"/><text transform="translate(280.90 634.14) scale(1.02 1.01)" font-size="27.8px" text-anchor="start">0.0</text></g>
</svg>
</body></html>
